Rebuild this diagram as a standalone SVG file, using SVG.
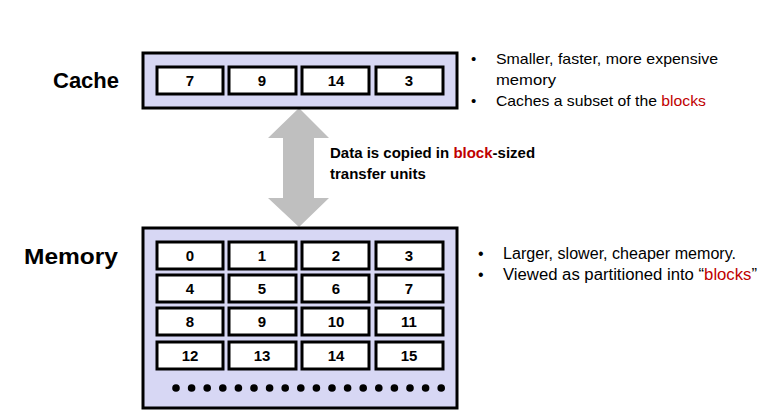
<svg xmlns="http://www.w3.org/2000/svg" width="764" height="418" viewBox="0 0 764 418">
<style>
.box{fill:#d7d7f4;stroke:#000;stroke-width:3}
.cell{fill:#fff;stroke:#000;stroke-width:3}
.num{font-family:"Liberation Sans",Arial,sans-serif;font-weight:bold;font-size:15px;text-anchor:middle;fill:#000}
.lbl{font-family:"Liberation Sans",Arial,sans-serif;font-weight:bold;font-size:22px;fill:#000}
.txt{font-family:"Liberation Sans",Arial,sans-serif;font-size:15px;fill:#000}
.txt2{font-family:"Liberation Sans",Arial,sans-serif;font-size:16px;fill:#000}
.bt{font-family:"Liberation Sans",Arial,sans-serif;font-weight:bold;font-size:15px;fill:#000}
.red{fill:#c00000}
</style>
<rect width="764" height="418" fill="#fff"/>
<g id="connectors">
<polygon points="299,108 329,138 314,138 314,198 329,198 299,227 268,198 283,198 283,138 268,138" fill="#bfbfbf"/>
</g>
<g id="cache">
<text class="lbl" x="53" y="88">Cache</text>
<rect class="box" x="143" y="53" width="314" height="55"/>
<rect class="cell" x="157" y="67" width="66" height="27"/><text class="num" x="190" y="86">7</text>
<rect class="cell" x="229" y="67" width="67" height="27"/><text class="num" x="262" y="86">9</text>
<rect class="cell" x="302" y="67" width="67" height="27"/><text class="num" x="336" y="86">14</text>
<rect class="cell" x="376" y="67" width="67" height="27"/><text class="num" x="409" y="86">3</text>
</g>
<g id="cache-notes">
<text class="txt" x="471" y="64">•</text>
<text class="txt" x="496" y="64" textLength="222" lengthAdjust="spacingAndGlyphs">Smaller, faster, more expensive</text>
<text class="txt" x="496" y="85" textLength="60" lengthAdjust="spacingAndGlyphs">memory</text>
<text class="txt" x="471" y="106">•</text>
<text class="txt" x="496" y="106" textLength="210" lengthAdjust="spacingAndGlyphs">Caches a subset of the <tspan class="red">blocks</tspan></text>
</g>
<g id="transfer-label">
<text class="bt" x="330" y="158">Data is copied in <tspan class="red">block</tspan>-sized</text>
<text class="bt" x="330" y="179">transfer units</text>
</g>
<g id="memory">
<text class="lbl" x="24" y="264" textLength="94" lengthAdjust="spacingAndGlyphs">Memory</text>
<rect class="box" x="143" y="228" width="314" height="180"/>
<g>
<rect class="cell" x="157" y="242" width="66" height="27"/><text class="num" x="190" y="261">0</text>
<rect class="cell" x="229" y="242" width="67" height="27"/><text class="num" x="262" y="261">1</text>
<rect class="cell" x="302" y="242" width="67" height="27"/><text class="num" x="336" y="261">2</text>
<rect class="cell" x="376" y="242" width="67" height="27"/><text class="num" x="409" y="261">3</text>
<rect class="cell" x="157" y="275" width="66" height="27"/><text class="num" x="190" y="294">4</text>
<rect class="cell" x="229" y="275" width="67" height="27"/><text class="num" x="262" y="294">5</text>
<rect class="cell" x="302" y="275" width="67" height="27"/><text class="num" x="336" y="294">6</text>
<rect class="cell" x="376" y="275" width="67" height="27"/><text class="num" x="409" y="294">7</text>
<rect class="cell" x="157" y="308" width="66" height="27"/><text class="num" x="190" y="327">8</text>
<rect class="cell" x="229" y="308" width="67" height="27"/><text class="num" x="262" y="327">9</text>
<rect class="cell" x="302" y="308" width="67" height="27"/><text class="num" x="336" y="327">10</text>
<rect class="cell" x="376" y="308" width="67" height="27"/><text class="num" x="409" y="327">11</text>
<rect class="cell" x="157" y="342" width="66" height="27"/><text class="num" x="190" y="361">12</text>
<rect class="cell" x="229" y="342" width="67" height="27"/><text class="num" x="262" y="361">13</text>
<rect class="cell" x="302" y="342" width="67" height="27"/><text class="num" x="336" y="361">14</text>
<rect class="cell" x="376" y="342" width="67" height="27"/><text class="num" x="409" y="361">15</text>
</g>
<g fill="#000">
<circle cx="176" cy="388" r="3.8"/><circle cx="191.6" cy="388" r="3.8"/><circle cx="207.2" cy="388" r="3.8"/><circle cx="222.8" cy="388" r="3.8"/><circle cx="238.4" cy="388" r="3.8"/><circle cx="254" cy="388" r="3.8"/><circle cx="269.6" cy="388" r="3.8"/><circle cx="285.2" cy="388" r="3.8"/><circle cx="300.8" cy="388" r="3.8"/><circle cx="316.4" cy="388" r="3.8"/><circle cx="332" cy="388" r="3.8"/><circle cx="347.6" cy="388" r="3.8"/><circle cx="363.2" cy="388" r="3.8"/><circle cx="378.8" cy="388" r="3.8"/><circle cx="394.4" cy="388" r="3.8"/><circle cx="410" cy="388" r="3.8"/><circle cx="425.6" cy="388" r="3.8"/><circle cx="441.2" cy="388" r="3.8"/>
</g>
</g>
<g id="memory-notes">
<text class="txt2" x="478" y="259">•</text>
<text class="txt2" x="503" y="259" textLength="233" lengthAdjust="spacingAndGlyphs">Larger, slower, cheaper memory.</text>
<text class="txt2" x="478" y="280">•</text>
<text class="txt2" x="503" y="280" textLength="254" lengthAdjust="spacingAndGlyphs">Viewed as partitioned into “<tspan class="red">blocks</tspan>”</text>
</g>
</svg>
